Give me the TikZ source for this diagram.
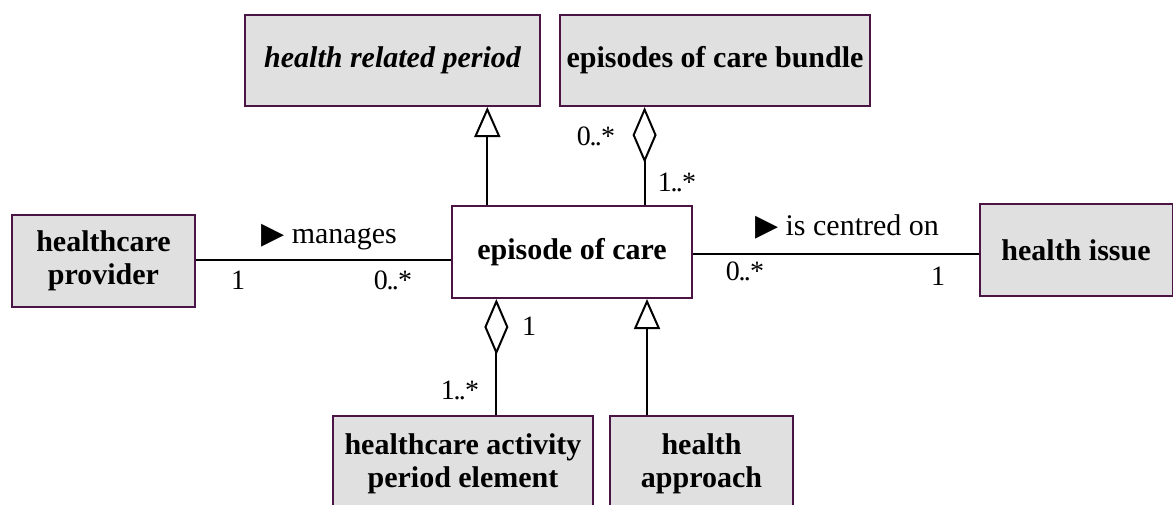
\documentclass[tikz,border=0pt]{standalone}
\usepackage{fontspec}
\setmainfont{Liberation Serif}
\newfontfamily\symfont{DejaVu Sans}
\usetikzlibrary{calc,arrows.meta}

\definecolor{classline}{HTML}{4A1545}
\definecolor{classfill}{HTML}{E0E0E0}

% multiplicity ranges with tight dots
\newcommand{\rng}[2]{#1\kern-0.6pt.\kern-0.9pt.\kern-0.3pt#2}

\tikzset{
  class/.style={draw=classline, line width=1pt, fill=classfill,
    font=\fontsize{15}{16.5}\selectfont\bfseries, align=center, inner sep=0pt},
  gen/.style={line width=1pt, -{Triangle[open, length=15pt, width=13pt]}},
  agg/.style={line width=1pt, -{Diamond[open, length=28pt, width=12pt]}},
  assoc/.style={line width=1pt},
  mult/.style={font=\fontsize{14}{16}\selectfont},
}

\begin{document}
\begin{tikzpicture}[x=0.5pt, y=-0.5pt, font=\fontsize{15}{17}\selectfont]
        \useasboundingbox (0,0) rectangle (1173,504);

        % classes
        \node[class, minimum width=147.5pt, minimum height=45.5pt] (period) at (392.5,60.5)
            {\itshape health related period};
        \node[class, minimum width=155pt, minimum height=45.5pt] (bundle) at (715,60.5)
            {episodes of care bundle};
        \node[class, minimum width=91.5pt, minimum height=46pt] (provider) at (103.5,261)
            {healthcare\\provider};
        \node[class, fill=white, minimum width=120pt, minimum height=46pt] (episode) at (572,252)
            {episode of care};
        \node[class, minimum width=96.5pt, minimum height=46pt] (issue) at (1076,250)
            {health issue};
        \node[class, minimum width=130pt, minimum height=48pt] (element) at (463,464)
            {healthcare activity\\period element};
        \node[class, minimum width=91.5pt, minimum height=48pt] (approach) at (701.5,464)
            {health\\approach};

        % generalisations
        \coordinate (eocTopL) at ($(episode.north west)!0.15!(episode.north east)$);
        \draw[gen] (eocTopL) -- (eocTopL |- period.south);
        \coordinate (eocBotR) at ($(episode.south west)!0.81!(episode.south east)$);
        \draw[gen] (eocBotR |- approach.north) -- (eocBotR);

        % aggregations
        \coordinate (eocTopR) at ($(episode.north west)!0.8!(episode.north east)$);
        \draw[agg] (eocTopR) -- (eocTopR |- bundle.south);
        \coordinate (eocBotL) at ($(episode.south west)!0.1875!(episode.south east)$);
        \draw[agg] (eocBotL |- element.north) -- (eocBotL);

        % associations
        \draw[assoc] (provider.east |- 0,260) -- (episode.west |- 0,260);
        \draw[assoc] (episode.east |- 0,254) -- (issue.west |- 0,254);

        % role names
        \node (manages) at (329,237) {{\symfont ▶} manages};
        \node (centred) at (847,227) {{\symfont ▶} is centred on};

        % multiplicities
        \node[mult] (mProv) at (238,280) {1};
        \node[mult] (mEpiL) at (393,280) {\rng{0}{*}};
        \node[mult] (mEpiR) at (745,271) {\rng{0}{*}};
        \node[mult] (mIssue) at (938,276) {1};
        \node[mult] (mBundle) at (596,136) {\rng{0}{*}};
        \node[mult] (mEpiT) at (677,182) {\rng{1}{*}};
        \node[mult] (mEpiB) at (529,326) {1};
        \node[mult] (mElem) at (460,390) {\rng{1}{*}};
\end{tikzpicture}
\end{document}
